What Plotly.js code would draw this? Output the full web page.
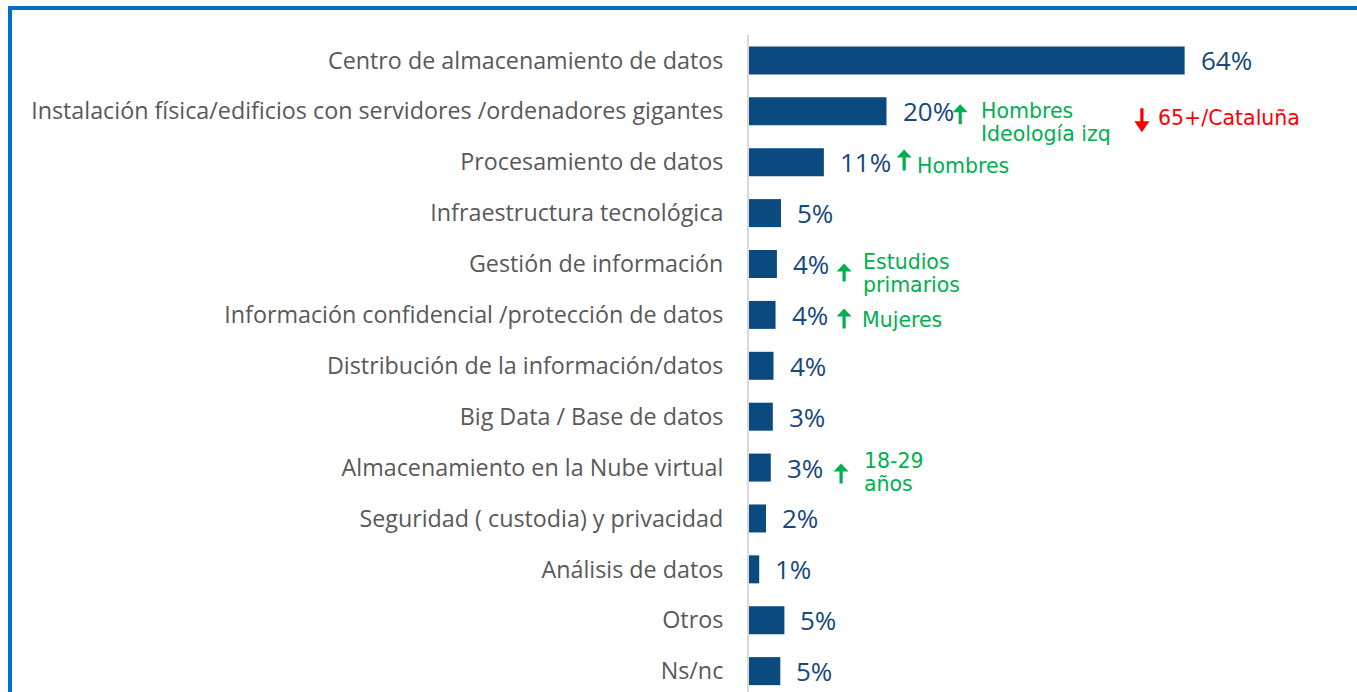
<!DOCTYPE html>
<html><head><meta charset="utf-8">
<script src="https://cdn.plot.ly/plotly-3.0.1.min.js"></script>
<style>
html,body{margin:0;padding:0;background:#fff;overflow:hidden}
#chart{position:absolute;left:0;top:0;width:1357px;height:692px}
#frame{position:absolute;left:8px;top:6px;width:1349px;height:686px;border-top:4px solid #0070c0;border-left:4px solid #0070c0;box-sizing:border-box;pointer-events:none}
</style></head><body>
<div id="chart"></div><div id="frame"></div>
<script>
const categories = [
  'Centro de almacenamiento de datos',
  'Instalación física/edificios con servidores /ordenadores gigantes',
  'Procesamiento de datos',
  'Infraestructura tecnológica',
  'Gestión de información',
  'Información confidencial /protección de datos',
  'Distribución de la información/datos',
  'Big Data / Base de datos',
  'Almacenamiento en la Nube virtual',
  'Seguridad ( custodia) y privacidad',
  'Análisis de datos',
  'Otros',
  'Ns/nc'
];
const values = [64, 20.2, 11.0, 4.7, 4.1, 3.9, 3.6, 3.5, 3.2, 2.5, 1.5, 5.2, 4.6];
const valueLabels = ['64%','20%','11%','5%','4%','4%','4%','3%','3%','2%','1%','5%','5%'];

// highlight notes: row index, text lines, colour, arrow direction
const noteRows   = [1, 1, 2, 4, 5, 8];
const noteTexts  = [['Hombres', 'Ideología izq'], ['65+/Cataluña'], ['Hombres'], ['Estudios', 'primarios'], ['Mujeres'], ['18-29', 'años']];
const noteColors = ['#00b050', '#ff0000', '#00b050', '#00b050', '#00b050', '#00b050'];
const noteDirs   = ['up', 'down', 'up', 'up', 'up', 'up'];

const BLUE = '#0b4a7e';
const LABEL_BLUE = '#17497a';
const pxPerUnit = 6.8;
const toX = px => (px - 749) / pxPerUnit;

// placements (pixels): arrow centre x, tip offset above row centre, arrow length, head height
const arrowPx   = [960, 1141.5, 904, 844, 844, 841];
const arrowTip  = [7, -21, 12.8, 0.6, 6.5, 4];
const arrowLen  = [20, 24, 21, 18, 20, 20];
const headH     = [8, 11, 8, 8, 8, 8];
const HEAD_W = 7.5, SHAFT_W = 1.6;
// text left x, first line offset above row centre
const textPx    = [979, 1156, 915, 861, 860, 862];
const textY     = [0, -6.6, -4, 2, -4.7, 7];
const LINE_GAP  = 23;

function arrowPath(tip, len, hh, up) {
  const s = up ? -1 : 1;            // direction from tip to tail (pixel y, up positive)
  const p = [
    [0, tip], [HEAD_W, tip + s * hh], [SHAFT_W, tip + s * hh],
    [SHAFT_W, tip + s * len], [-SHAFT_W, tip + s * len],
    [-SHAFT_W, tip + s * hh], [-HEAD_W, tip + s * hh]
  ];
  return 'M' + p.map(q => q[0] + ',' + q[1]).join('L') + 'Z';
}

const annotations = [];
const shapes = [];
categories.forEach((c, i) => {
  annotations.push({
    x: values[i], y: c, xref: 'x', yref: 'y', text: valueLabels[i],
    showarrow: false, xanchor: 'left', xshift: 14,
    font: {family: 'Open Sans', size: 26, color: LABEL_BLUE}
  });
});
noteRows.forEach((r, k) => {
  const up = noteDirs[k] === 'up';
  shapes.push({
    type: 'path', xref: 'x', yref: 'y',
    xsizemode: 'pixel', ysizemode: 'pixel',
    xanchor: toX(arrowPx[k]), yanchor: r,
    path: arrowPath(arrowTip[k], arrowLen[k], headH[k], up),
    fillcolor: noteColors[k], line: {width: 0}
  });
  noteTexts[k].forEach((line, j) => {
    annotations.push({
      x: toX(textPx[k]), y: categories[r], xref: 'x', yref: 'y', text: line,
      showarrow: false, xanchor: 'left', align: 'left', yanchor: 'middle',
      yshift: textY[k] - j * LINE_GAP,
      font: {family: 'DejaVu Sans', size: 20.5, color: noteColors[k]}
    });
  });
});

const trace = {
  type: 'bar', orientation: 'h',
  x: values, y: categories,
  marker: {color: BLUE},
  hoverinfo: 'none'
};

const layout = {
  width: 1357, height: 692,
  margin: {l: 749, r: 9, t: 35, b: 0, pad: 0},
  paper_bgcolor: '#ffffff', plot_bgcolor: '#ffffff',
  bargap: 0.45,
  showlegend: false,
  xaxis: {range: [0, 88], visible: false, fixedrange: true},
  yaxis: {
    type: 'category', range: [12.41, -0.5],
    showline: true, linecolor: '#d9d9d9', linewidth: 2,
    showgrid: false, zeroline: false, ticks: '',
    ticklabelstandoff: 19,
    tickfont: {family: 'Open Sans', size: 23.3, color: '#595959'}
  },
  shapes: shapes,
  annotations: annotations
};

Plotly.newPlot('chart', [trace], layout, {displayModeBar: false, staticPlot: true});
</script>
</body></html>
